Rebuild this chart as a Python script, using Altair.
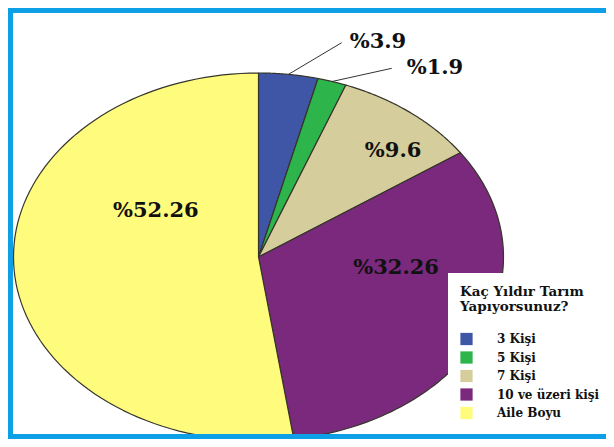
import altair as alt
import pandas as pd

categories = ["3 Kişi", "5 Kişi", "7 Kişi", "10 ve üzeri kişi", "Aile Boyu"]
values = [3.9, 1.9, 9.6, 32.26, 52.26]
labels = ["%3.9", "%1.9", "%9.6", "%32.26", "%52.26"]
colors = ["#3F56A6", "#2DB44B", "#D5CE9C", "#7B297D", "#FFFB7D"]
legend_title = ["Kaç Yıldır Tarım", "Yapıyorsunuz?"]

df = pd.DataFrame({"cat": categories, "value": values, "label": labels,
                   "idx": list(range(len(categories)))})

W, H = 598, 431
N = 90
FONT = "DejaVu Serif"

base = alt.Chart(df).transform_window(
    cum="sum(value)", sort=[alt.SortField("idx", order="ascending")], frame=[None, 0]
).transform_joinaggregate(total="sum(value)").transform_calculate(
    a0="2*PI*(datum.cum - datum.value)/datum.total",
    a1="2*PI*datum.cum/datum.total",
).transform_calculate(amid="(datum.a0 + datum.a1)/2")

xs = alt.Scale(domain=[-1.02245, 1.41837], nice=False, zero=False)
ys = alt.Scale(domain=[-0.98913, 1.35326], nice=False, zero=False)

pie = base.transform_calculate(
    step=f"sequence(-1, {N + 2})"
).transform_flatten(["step"]).transform_calculate(
    t=f"datum.a0 + (datum.a1 - datum.a0) * clamp(datum.step, 0, {N}) / {N}",
    inner=f"datum.step < 0 || datum.step > {N}",
).transform_calculate(
    px="datum.inner ? 0 : sin(datum.t)",
    py="datum.inner ? 0 : cos(datum.t)",
).mark_line(stroke="#35352b", strokeWidth=1.2, strokeJoin="round").encode(
    x=alt.X("px:Q", scale=xs, axis=None),
    y=alt.Y("py:Q", scale=ys, axis=None),
    fill=alt.Fill("cat:N", scale=alt.Scale(domain=categories, range=colors),
                  legend=alt.Legend(
                      title=legend_title, orient="none", legendX=440, legendY=265,
                      fillColor="white", padding=12,
                      titleFont=FONT, titleFontSize=13.5, titleFontWeight="bold",
                      titleColor="#111111", titleLineHeight=15, titlePadding=19,
                      labelFont=FONT, labelFontSize=12, labelFontWeight="bold",
                      labelColor="#111111", labelOffset=24,
                      symbolType="square", symbolSize=150, symbolStrokeWidth=0,
                      symbolOpacity=1, rowPadding=5.5)),
    order=alt.Order("step:Q"),
    detail="cat:N",
)


def inner_label(cat, r, dx, dy):
    return base.transform_filter(alt.datum.cat == cat).transform_calculate(
        lx=f"{r}*sin(datum.amid)", ly=f"{r}*cos(datum.amid)"
    ).mark_text(font=FONT, fontWeight="bold", fontSize=21, dx=dx, dy=dy,
                align="center", baseline="middle", color="#111111").encode(
        x=alt.X("lx:Q", scale=xs, axis=None),
        y=alt.Y("ly:Q", scale=ys, axis=None),
        text="label:N",
    )


def leader_label(cat, ddx, ddy, tdx, tdy):
    b = base.transform_filter(alt.datum.cat == cat).transform_calculate(
        ex="sin(datum.amid)", ey="cos(datum.amid)"
    ).transform_calculate(lx=f"datum.ex + {ddx}", ly=f"datum.ey + {ddy}")
    rule = b.mark_rule(color="#333333", strokeWidth=1).encode(
        x=alt.X("ex:Q", scale=xs, axis=None),
        y=alt.Y("ey:Q", scale=ys, axis=None),
        x2="lx:Q", y2="ly:Q",
    )
    txt = b.mark_text(font=FONT, fontWeight="bold", fontSize=21, dx=tdx, dy=tdy,
                      align="left", baseline="middle", color="#111111").encode(
        x=alt.X("lx:Q", scale=xs, axis=None),
        y=alt.Y("ly:Q", scale=ys, axis=None),
        text="label:N",
    )
    return [rule, txt]


frame_src = alt.Chart(pd.DataFrame({"k": [0]}))
FRAME = "#0EA0E6"
frame_left = frame_src.mark_rule(color=FRAME, strokeWidth=5).encode(
    x=alt.value(2.5), y=alt.value(0), y2=alt.value(H))
frame_top = frame_src.mark_rule(color=FRAME, strokeWidth=5).encode(
    y=alt.value(2.5), x=alt.value(0), x2=alt.value(W))
frame_bottom = frame_src.mark_rule(color=FRAME, strokeWidth=5).encode(
    y=alt.value(H - 2.5), x=alt.value(0), x2=alt.value(W))

layers = [pie,
          inner_label("Aile Boyu", 0.42, 0, -52),
          inner_label("10 ve üzeri kişi", 0.613, 0, -34),
          inner_label("7 Kişi", 0.75, 21, 2)]
layers += leader_label("3 Kişi", 0.2172, 0.1722, 8, -1)
layers += leader_label("5 Kişi", 0.2435, 0.0716, 15, 0)
layers += [frame_left, frame_top, frame_bottom]

chart = alt.layer(*layers).properties(
    width=W, height=H, padding=0,
    autosize=alt.AutoSizeParams(type="none"),
    background="white",
).configure_view(stroke=None)

chart.save("out.html", embed_options={"renderer": "svg", "actions": False})
